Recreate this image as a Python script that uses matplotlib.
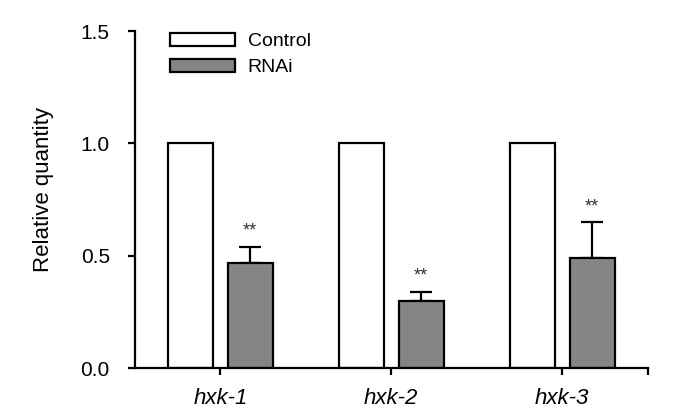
import matplotlib
matplotlib.use("Agg")
import matplotlib.pyplot as plt
import numpy as np

categories = ["hxk-1", "hxk-2", "hxk-3"]
control = [1.0, 1.0, 1.0]
rnai = [0.47, 0.30, 0.49]
rnai_err = [0.07, 0.04, 0.16]
marks = ["**", "**", "**"]

plt.rcParams['font.family'] = ['Liberation Sans', 'DejaVu Sans']

fig = plt.figure(figsize=(6.95, 4.15), dpi=100)
ax = fig.add_axes([0.194, 0.113, 0.738, 0.812])

x = np.arange(len(categories))
w = 0.263
off = 0.175
lw = 1.6
ax.bar(x - off, control, w, color='white', edgecolor='black', linewidth=lw, label='Control', zorder=2)
ax.bar(x + off, rnai, w, color='#858585', edgecolor='black', linewidth=lw, label='RNAi', zorder=2)
ax.errorbar(x + off, rnai, yerr=[np.zeros(len(rnai)), rnai_err], fmt='none', ecolor='black',
            elinewidth=lw, capsize=8, capthick=lw, zorder=1)
for xi, v, e, m in zip(x, rnai, rnai_err, marks):
    ax.annotate(m, (xi + off, v + e), xytext=(0, 5), textcoords='offset points',
                ha='center', va='bottom', fontsize=13, color='#333333')

ax.set_xlim(-0.5, 2.5)
ax.set_ylim(0, 1.5)
ax.set_yticks([0, 0.5, 1.0, 1.5])
ax.set_yticklabels(['0.0', '0.5', '1.0', '1.5'])
ax.set_xticks(x)
ax.set_xticklabels(categories, style='italic', fontsize=16)
ax.set_xticks([2.5], minor=True)
ax.tick_params(axis='both', which='both', direction='out', length=5, width=lw)
ax.tick_params(axis='y', labelsize=15, pad=13)
ax.tick_params(axis='x', pad=9)
ax.spines['top'].set_visible(False)
ax.spines['right'].set_visible(False)
ax.spines['left'].set_linewidth(lw)
ax.spines['bottom'].set_linewidth(lw)
ax.set_ylabel('Relative quantity', fontsize=16)
ax.yaxis.set_label_coords(-0.158, 0.53)

ax.legend(loc='upper left', bbox_to_anchor=(0.034, 1.045), frameon=False, fontsize=14,
          handlelength=3.35, handleheight=0.6, handletextpad=0.65, labelspacing=0.45)

fig.savefig('out.png', dpi=100)
